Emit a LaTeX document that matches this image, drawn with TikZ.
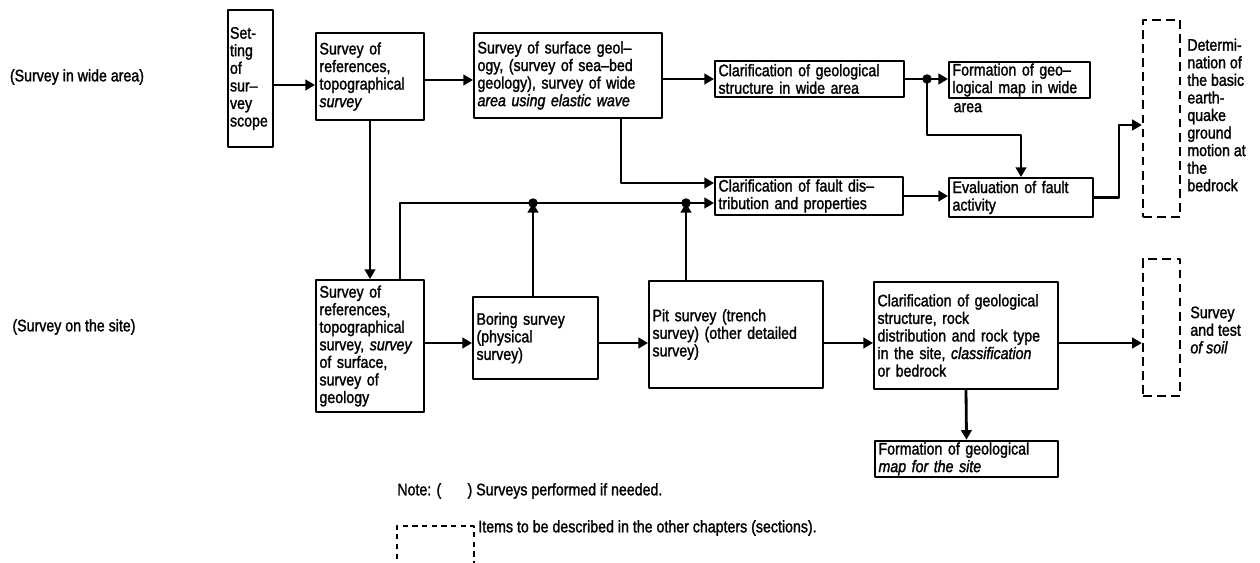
\documentclass[tikz,border=0pt]{standalone}
\usepackage{fontspec}
\setmainfont{Liberation Sans}[FakeStretch=0.85, FakeBold=1.5]
\usetikzlibrary{arrows.meta}

\begin{document}
\begin{tikzpicture}[x=0.02cm, y=-0.02cm, line join=round, >={Triangle[length=5.5pt,width=6pt]},
  font=\fontsize{9.5}{10}\selectfont,
  box/.style={draw, line width=1.1pt, align=left, inner xsep=2pt, inner ysep=1pt},
  dbox/.style={draw, line width=1.3pt, dash pattern=on 5pt off 3pt},
  flow/.style={->, line width=1.6pt},
  link/.style={line width=1.6pt}]
\def \yrow{343};
\useasboundingbox (0,0) rectangle (1260,563);
% side labels
\node (widearea) at (77,77) {(Survey in wide area)};
\node (onsite) at (74,327) {(Survey on the site)};
% survey in wide area
\node[box, minimum width=0.86cm, minimum height=2.74cm, text width=0.82cm, inner xsep=1pt] (setting) at (250.5,78.5) {Set-\\ting\\of\\sur–\\vey\\scope};
\node[box, minimum width=2.16cm, minimum height=1.74cm, text width=2.02cm] (reftop) at (370,76.5) {Survey of\\references,\\topographical\\\textit{survey}};
\node[box, minimum width=3.76cm, minimum height=1.70cm, text width=3.62cm] (surface) at (568,75.5) {Survey of surface geol–\\ogy, (survey of sea–bed\\geology), survey of wide\\\textit{area using elastic wave}};
\node[box, minimum width=3.78cm, minimum height=0.72cm, text width=3.64cm] (geowide) at (809.5,79) {Clarification of geological\\structure in wide area};
\node[box, minimum width=2.82cm, minimum height=0.68cm, text width=2.68cm] (mapwide) at (1019.5,80) {Formation of geo–\\logical map in wide};
\node[anchor=north west, inner sep=0pt] (mapwidetail) at ([xshift=3pt, yshift=-2pt]mapwide.south west) {area};
\node[box, minimum width=3.76cm, minimum height=0.76cm, text width=3.62cm] (fault) at (809,196) {Clarification of fault dis–\\tribution and properties};
\node[box, minimum width=2.88cm, minimum height=0.78cm, text width=2.74cm] (evaluation) at (1021,197.5) {Evaluation of fault\\activity};
\node[dbox, minimum width=0.74cm, minimum height=3.94cm] (determ) at (1161.5,118.5) {};
\node[anchor=west, align=left, inner sep=0pt] (determtext) at (1187,115) {Determi-\\nation of\\the basic\\earth-\\quake\\ground\\motion at\\the\\bedrock};
% survey on the site
\node[box, minimum width=2.16cm, minimum height=2.64cm, text width=2.02cm] (refsite) at (370,346) {Survey of\\references,\\topographical\\survey, \textit{survey}\\of surface,\\survey of\\geology};
\node[box, minimum width=2.50cm, minimum height=1.64cm, text width=2.36cm] (boring) at (535.5,338) {Boring survey\\(physical\\survey)};
\node[box, minimum width=3.48cm, minimum height=2.14cm, text width=3.34cm] (pit) at (736,334.5) {Pit survey (trench\\survey) (other detailed\\survey)};
\node[box, minimum width=3.68cm, minimum height=2.14cm, text width=3.54cm] (site) at (966,335.5) {Clarification of geological\\structure, rock\\distribution and rock type\\in the site, \textit{classification}\\or bedrock};
\node[dbox, minimum width=0.74cm, minimum height=2.74cm] (soil) at (1161.5,327.5) {};
\node[anchor=west, align=left, inner sep=0pt] (soiltext) at (1190,330) {Survey\\and test\\\textit{of soil}};
\node[box, minimum width=3.66cm, minimum height=0.68cm, text width=3.52cm] (mapsite) at (966.5,459) {Formation of geological\\\textit{map for the site}};
% notes
\node[anchor=west, inner sep=0pt] (note) at (397,491) {Note: (\hspace{15pt}) Surveys performed if needed.};
\node[dbox, line width=1pt, dash pattern=on 3pt off 2.5pt, anchor=north west, minimum width=1.54cm, minimum height=1.2cm] (legend) at (396,525) {};
\node[anchor=west, inner sep=0pt] (legendtext) at (478,528) {Items to be described in the other chapters (sections).};
% junctions
\coordinate (jwide) at (927,79);
\coordinate (jboring) at (533,203);
\coordinate (jpit) at (686,203);
% connectors
\draw[flow] (setting.east |- 0,85) -- (reftop.west |- 0,85);
\draw[flow] (reftop.east |- 0,80) -- (surface.west |- 0,80);
\draw[flow] (surface.east |- geowide.west) -- (geowide.west);
\draw[link] (geowide.east) -- (jwide);
\draw[flow] (jwide) -- (mapwide.west |- jwide);
\draw[flow] (jwide) |- (0,135 -| evaluation.north) -- (evaluation.north);
\draw[flow] (surface.south -| 621,0) |- (fault.west |- 0,183);
\draw[flow] (fault.east) -- (fault.east -| evaluation.west);
\draw[flow] (evaluation.east) -- ++(25,0) |- (determ.west |- 0,125);
\draw[flow] (reftop.south) -- (refsite.north);
\draw[link] (refsite.north -| 400,0) |- (jboring) -- (jpit);
\draw[flow] (jpit) -- (fault.west |- jpit);
\draw[flow] (boring.north -| jboring) -- (jboring);
\draw[flow] (pit.north -| jpit) -- (jpit);
\foreach \a/\b in {refsite/boring, boring/pit, pit/site, site/soil}
  \draw[flow] (\a.east |- 0,\yrow) -- (\b.west |- 0,\yrow);
\draw[flow] (site.south) -- (mapsite.north);
\foreach \j in {jwide, jboring, jpit}
  \fill (\j) circle (2.7pt);
\end{tikzpicture}
\end{document}
